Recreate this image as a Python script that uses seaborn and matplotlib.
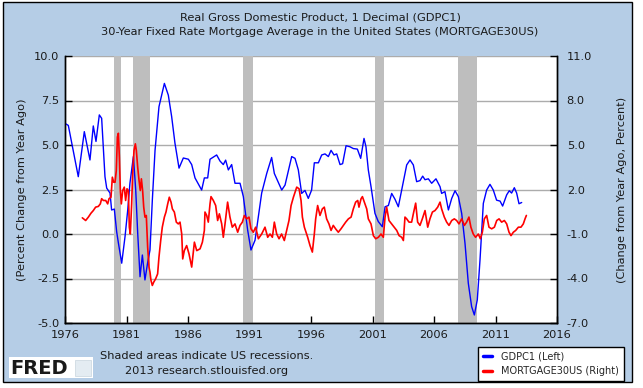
import numpy as np
import pandas as pd
import matplotlib
matplotlib.use("Agg")
import matplotlib.pyplot as plt
from matplotlib.patches import Rectangle
from matplotlib.lines import Line2D
import seaborn as sns

# GDPC1, percent change from year ago (left axis)
gdp_years = [1976.08, 1976.27, 1977.08, 1977.57, 1978.03, 1978.30, 1978.52, 1978.79, 1978.98,
             1979.25, 1979.39, 1979.66, 1979.79, 1980.01, 1980.20, 1980.34, 1980.61, 1980.88,
             1981.10, 1981.28, 1981.56, 1981.75, 1981.91, 1982.10, 1982.29, 1982.50, 1982.72,
             1982.91, 1983.10, 1983.32, 1983.64, 1984.08, 1984.40, 1984.67, 1984.94, 1985.27,
             1985.62, 1986.03, 1986.30, 1986.57, 1987.11, 1987.33, 1987.60, 1987.79, 1988.33,
             1988.60, 1988.87, 1989.06, 1989.28, 1989.55, 1989.82, 1990.23, 1990.50, 1990.85,
             1991.12, 1991.45, 1991.99, 1992.40, 1992.80, 1993.02, 1993.62, 1993.89, 1994.43,
             1994.70, 1994.97, 1995.24, 1995.51, 1995.78, 1996.05, 1996.27, 1996.60, 1996.87,
             1997.14, 1997.41, 1997.63, 1997.87, 1998.09, 1998.36, 1998.57, 1998.85, 1999.17,
             1999.44, 1999.77, 2000.04, 2000.31, 2000.47, 2000.66, 2000.88, 2001.20, 2001.47,
             2001.80, 2002.02, 2002.29, 2002.56, 2002.83, 2003.10, 2003.45, 2003.78, 2004.05,
             2004.32, 2004.59, 2004.86, 2005.08, 2005.27, 2005.54, 2005.81, 2006.16, 2006.49,
             2006.62, 2006.89, 2007.17, 2007.44, 2007.71, 2007.98, 2008.25, 2008.52, 2008.79,
             2009.06, 2009.28, 2009.52, 2009.74, 2010.01, 2010.28, 2010.55, 2010.82, 2011.09,
             2011.37, 2011.58, 2011.91, 2012.12, 2012.31, 2012.53, 2012.72, 2012.91, 2013.13]
gdp_growth = [6.18, 6.1, 3.22, 5.75, 4.16, 6.07, 5.2, 6.69, 6.5,
              3.22, 2.58, 2.3, 1.35, 1.4, 0.13, -0.5, -1.64, -0.15,
              1.35, 2.85, 4.35, 2.47, 0.05, -2.4, -1.18, -2.58, -1.6,
              -0.9, 1.9, 4.7, 7.15, 8.46, 7.8, 6.6, 5.1, 3.7,
              4.27, 4.2, 3.9, 3.15, 2.47, 3.15, 3.15, 4.2, 4.44,
              4.1, 3.9, 4.15, 3.6, 3.9, 2.85, 2.85, 2.1, 0.22,
              -0.9, -0.35, 2.3, 3.4, 4.3, 3.4, 2.47, 2.75, 4.35,
              4.25, 3.6, 2.28, 2.45, 2.0, 2.47, 4.0, 4.0, 4.44,
              4.5, 4.35, 4.7, 4.44, 4.5, 3.9, 3.95, 4.96, 4.9,
              4.8, 4.77, 4.25, 5.37, 4.9, 3.6, 2.66, 1.16, 0.7,
              0.41, 1.53, 1.6, 2.28, 1.95, 1.53, 2.75, 3.88, 4.16,
              3.88, 2.94, 3.0, 3.25, 3.05, 3.1, 2.85, 3.1, 2.66,
              2.28, 2.38, 1.35, 2.0, 2.43, 2.1, 1.16, -0.52, -2.77,
              -4.08, -4.55, -3.7, -1.46, 1.72, 2.47, 2.79, 2.47, 1.9,
              1.85, 1.57, 2.2, 2.43, 2.3, 2.6, 2.3, 1.7, 1.77]

# MORTGAGE30US, change from year ago in percentage points (right axis)
mort_years = [1977.41, 1977.68, 1977.90, 1978.11, 1978.30, 1978.49, 1978.71, 1978.87, 1978.98,
              1979.12, 1979.31, 1979.47, 1979.58, 1979.74, 1979.85, 1979.96, 1980.07, 1980.17,
              1980.26, 1980.34, 1980.42, 1980.50, 1980.58, 1980.69, 1980.82, 1980.93, 1981.04,
              1981.15, 1981.23, 1981.31, 1981.42, 1981.50, 1981.61, 1981.72, 1981.80, 1981.91,
              1982.02, 1982.12, 1982.21, 1982.31, 1982.40, 1982.50, 1982.61, 1982.72, 1982.83,
              1982.91, 1982.99, 1983.10, 1983.21, 1983.37, 1983.53, 1983.64, 1983.78, 1983.91,
              1984.08, 1984.21, 1984.35, 1984.48, 1984.62, 1984.73, 1984.89, 1985.05, 1985.21,
              1985.35, 1985.49, 1985.57, 1985.70, 1985.89, 1986.08, 1986.30, 1986.52, 1986.71,
              1986.98, 1987.17, 1987.33, 1987.38, 1987.52, 1987.65, 1987.79, 1987.87, 1988.06,
              1988.25, 1988.41, 1988.55, 1988.74, 1988.87, 1989.01, 1989.22, 1989.41, 1989.60,
              1989.82, 1990.04, 1990.23, 1990.42, 1990.58, 1990.77, 1990.96, 1991.12, 1991.31,
              1991.50, 1991.72, 1991.99, 1992.26, 1992.48, 1992.67, 1992.86, 1993.02, 1993.21,
              1993.40, 1993.61, 1993.83, 1994.02, 1994.21, 1994.38, 1994.57, 1994.84, 1995.03,
              1995.19, 1995.30, 1995.46, 1995.73, 1995.92, 1996.11, 1996.27, 1996.38, 1996.54,
              1996.73, 1996.92, 1997.08, 1997.27, 1997.46, 1997.63, 1997.81, 1998.00, 1998.22,
              1998.44, 1998.63, 1998.82, 1999.04, 1999.26, 1999.44, 1999.63, 1999.80, 1999.90,
              2000.07, 2000.18, 2000.34, 2000.53, 2000.66, 2000.88, 2001.07, 2001.26, 2001.48,
              2001.69, 2001.88, 2002.02, 2002.15, 2002.34, 2002.56, 2002.78, 2002.97, 2003.16,
              2003.37, 2003.51, 2003.64, 2003.78, 2003.97, 2004.18, 2004.35, 2004.51, 2004.67,
              2004.86, 2005.05, 2005.27, 2005.49, 2005.67, 2005.87, 2006.08, 2006.30, 2006.49,
              2006.62, 2006.84, 2007.03, 2007.22, 2007.44, 2007.65, 2007.84, 2008.03, 2008.25,
              2008.47, 2008.65, 2008.84, 2009.00, 2009.19, 2009.38, 2009.60, 2009.77, 2009.93,
              2010.09, 2010.28, 2010.47, 2010.69, 2010.91, 2011.10, 2011.29, 2011.50, 2011.72,
              2011.91, 2012.10, 2012.26, 2012.45, 2012.64, 2012.86, 2013.07, 2013.26, 2013.40,
              2013.51]
mort_change = [0.09, -0.09, 0.14, 0.40, 0.58, 0.81, 0.86, 1.03, 1.38,
               1.26, 1.26, 1.03, 1.38, 1.48, 2.83, 2.49, 2.49, 3.28,
               5.53, 5.79, 4.18, 1.93, 1.03, 1.93, 2.16, 1.26, 2.05,
               1.93, -0.54, -1.0, 1.03, 3.06, 4.63, 5.08, 4.63, 3.50,
               2.61, 1.93, 2.72, 1.93, 0.81, 0.14, 0.25, -1.89, -3.23,
               -3.57, -4.13, -4.47, -4.25, -4.02, -3.69, -2.56, -1.44, -0.54,
               0.14, 0.48, 1.03, 1.48, 1.15, 0.69, 0.48, -0.20, -0.32,
               -0.20, -1.0, -2.68, -2.12, -1.78, -2.33, -3.23, -1.55, -2.12,
               -2.0, -1.55, -0.76, 0.48, 0.25, -0.20, 1.03, 1.52, 1.26,
               0.92, -0.09, 0.36, -0.32, -1.22, -0.32, 1.15, 0.14, -0.54,
               -0.32, -0.88, -0.42, -0.20, 0.25, 0.02, 0.14, -0.65, -0.88,
               -0.54, -1.32, -1.0, -0.54, -1.22, -1.0, -1.22, -0.20, -1.0,
               -1.32, -1.0, -1.44, -0.76, -0.09, 0.92, 1.48, 2.16, 2.05,
               1.26, 0.14, -0.54, -1.22, -1.78, -2.22, -1.0, 0.02, 0.92,
               0.25, 0.69, 0.81, 0.02, -0.32, -0.76, -0.42, -0.65, -0.88,
               -0.65, -0.42, -0.20, 0.02, 0.14, 0.69, 1.15, 1.26, 0.81,
               1.38, 1.52, 1.15, 0.69, 0.02, -0.32, -1.11, -1.32, -1.22,
               -1.0, -1.22, 0.14, 0.81, -0.09, -0.32, -0.54, -0.76, -1.11,
               -1.22, -1.44, 0.14, 0.02, -0.20, -0.20, 0.48, 1.08, -0.20,
               -0.42, 0.02, 0.58, -0.54, 0.02, 0.48, 0.58, 0.81, 1.15,
               0.69, 0.14, -0.20, -0.42, -0.09, 0.02, -0.09, -0.32, 0.02,
               -0.42, -0.20, 0.14, -0.54, -1.0, -1.22, -1.0, -1.32, -0.88,
               0.02, 0.25, -0.54, -0.65, -0.54, -0.09, 0.02, -0.20, -0.09,
               -0.32, -0.88, -1.11, -0.88, -0.76, -0.54, -0.54, -0.32, 0.02,
               0.25]

# US recessions
rec_start = [1980.0, 1981.5, 1990.5, 2001.17, 2007.92]
rec_end = [1980.58, 1982.92, 1991.25, 2001.92, 2009.5]

left_ticks = [-5.0, -2.5, 0.0, 2.5, 5.0, 7.5, 10.0]
right_ticks = [-7.0, -4.0, -1.0, 2.0, 5.0, 8.0, 11.0]
year_ticks = [1976, 1981, 1986, 1991, 1996, 2001, 2006, 2011, 2016]

gdp = pd.DataFrame({"year": gdp_years, "value": gdp_growth})
mort = pd.DataFrame({"year": mort_years, "value": mort_change})

sns.set_theme(style="white")
plt.rcParams["font.family"] = ["DejaVu Sans"]

W, H = 643, 388
bg = "#b5cde6"
fig = plt.figure(figsize=(W / 100, H / 100), dpi=100)
fig.patch.set_facecolor("white")
fig.patches.append(Rectangle((3 / W, 1 - 382 / H), 629 / W, 380 / H, transform=fig.transFigure,
                             facecolor=bg, edgecolor="black", linewidth=1.0, zorder=-5))

ax = fig.add_axes([65 / W, 1 - 323 / H, 492 / W, 267 / H])
ax.set_facecolor("white")
ax2 = ax.twinx()
ax2.patch.set_visible(False)

# recession shading
for s, e in zip(rec_start, rec_end):
    ax.axvspan(s, e, color="#bebebe", lw=0, zorder=1)

ax.set_axisbelow(True)
ax.yaxis.grid(True, color="#acacac", lw=1.0)
ax.xaxis.grid(False)

sns.lineplot(data=gdp, x="year", y="value", ax=ax, color="#0000ff", lw=1.0,
             estimator=None, sort=False, legend=False, zorder=3)
sns.lineplot(data=mort, x="year", y="value", ax=ax2, color="#ff0000", lw=1.2,
             estimator=None, sort=False, legend=False, zorder=3)

ax.set_xlim(1976, 2016)
ax.set_ylim(-5, 10)
ax2.set_ylim(-7, 11)
ax.set_xticks(year_ticks)
ax.set_xticklabels([str(y) for y in year_ticks])
ax.set_yticks(left_ticks)
ax.set_yticklabels([f"{v:.1f}" for v in left_ticks])
ax2.set_yticks(right_ticks)
ax2.set_yticklabels([f"{v:.1f}" for v in right_ticks])

fs = 8.2
for a in (ax, ax2):
    a.set_xlabel("")
    for sp in a.spines.values():
        sp.set_color("black")
        sp.set_linewidth(1.0)
    a.spines["top"].set_visible(False)
ax.tick_params(axis="y", direction="in", length=5, width=1, color="black",
               labelsize=fs, labelcolor="#1a1a1a", pad=4, left=True)
ax.tick_params(axis="x", direction="in", length=5, width=1, color="black",
               labelsize=fs, labelcolor="#1a1a1a", pad=5, bottom=True)
ax2.tick_params(axis="y", direction="in", length=5, width=1, color="black",
                labelsize=fs, labelcolor="#1a1a1a", pad=7, right=True)

ax.set_ylabel("(Percent Change from Year Ago)", fontsize=fs, color="#1a1a1a")
ax.yaxis.set_label_coords(-43 / 492, 0.5)
ax.yaxis.label.set_verticalalignment("center")
ax2.set_ylabel("(Change from Year Ago, Percent)", fontsize=fs, color="#1a1a1a")
ax2.yaxis.set_label_coords(557 / 492, 0.5)
ax2.yaxis.label.set_verticalalignment("center")

fig.text(320 / W, 1 - 17 / H, "Real Gross Domestic Product, 1 Decimal (GDPC1)",
         ha="center", va="center", fontsize=fs, color="#1a1a1a")
fig.text(320 / W, 1 - 32 / H, "30-Year Fixed Rate Mortgage Average in the United States (MORTGAGE30US)",
         ha="center", va="center", fontsize=fs, color="#1a1a1a")

# footer
fig.text(207 / W, 1 - 356 / H, "Shaded areas indicate US recessions.",
         ha="center", va="center", fontsize=fs, color="#1a1a1a")
fig.text(207 / W, 1 - 371 / H, "2013 research.stlouisfed.org",
         ha="center", va="center", fontsize=fs, color="#1a1a1a")
fig.patches.append(Rectangle((9 / W, 1 - 378 / H), 84 / W, 21 / H, transform=fig.transFigure,
                             facecolor="white", edgecolor="none", zorder=1))
fig.text(10 / W, 1 - 368 / H, "FRED", ha="left", va="center", fontsize=14,
         fontweight="bold", color="#1a1a1a", zorder=2)
fig.patches.append(Rectangle((75 / W, 1 - 376 / H), 16 / W, 16 / H, transform=fig.transFigure,
                             facecolor="#e4ecf2", edgecolor="#c8d4de", lw=0.5, zorder=2))

handles = [Line2D([], [], color="#0000ff", lw=2.5), Line2D([], [], color="#ff0000", lw=2.5)]
leg = fig.legend(handles, ["GDPC1 (Left)", "MORTGAGE30US (Right)"], loc="upper left",
                 bbox_to_anchor=(478 / W, 1 - 347 / H), fontsize=7, frameon=True,
                 fancybox=False, edgecolor="black", facecolor="white", framealpha=1,
                 handlelength=0.9, handletextpad=1.0, borderpad=0.5, labelspacing=0.45,
                 borderaxespad=0)
leg.get_frame().set_linewidth(1.0)

fig.savefig("out.png", dpi=100, facecolor=fig.get_facecolor())
